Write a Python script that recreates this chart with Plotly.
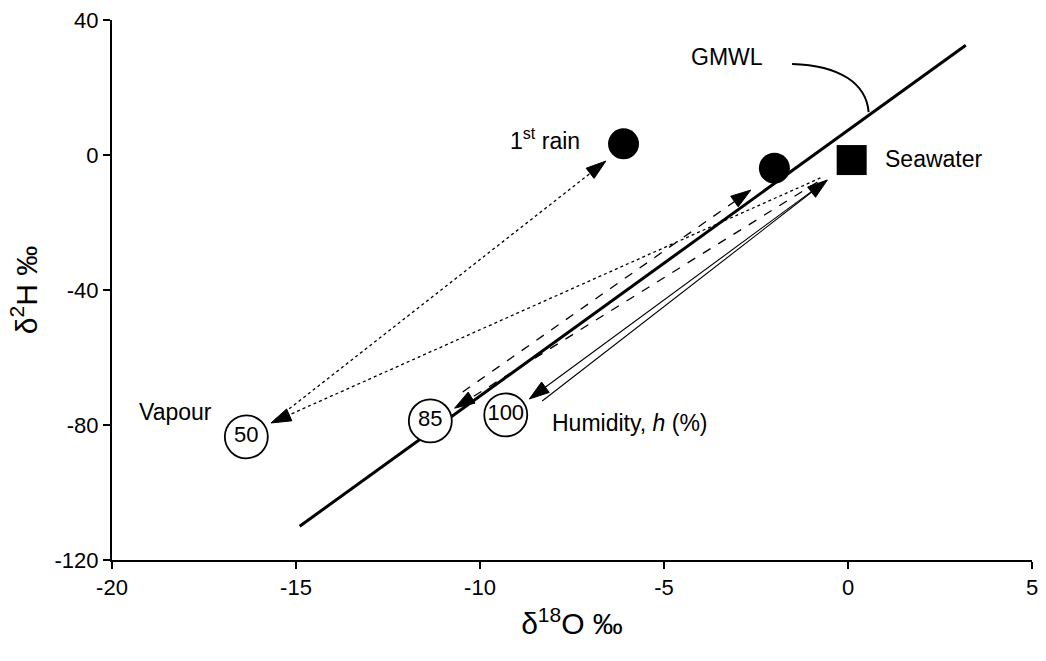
import plotly.graph_objects as go

# ---------------- data ----------------
# Global Meteoric Water Line (drawn segment)
gmwl_x = [-14.9, 3.2]
gmwl_y = [-110.0, 32.5]

# rain samples (filled circles)
rain_x = [-6.1, -2.0]
rain_y = [3.3, -3.9]

# seawater (filled square)
sea_x = [0.1]
sea_y = [-1.5]

# vapour in equilibrium at different humidities (open circles)
vapour_h = ["50", "85", "100"]
vapour_x = [-16.35, -11.35, -9.3]
vapour_y = [-83.5, -78.8, -77.0]

# arrows: start and tip (data units)
arrow_x0 = [-0.75, -15.57, -0.83, -10.47, -0.94, -8.31]
arrow_y0 = [-6.8, -78.5, -8.0, -70.2, -10.4, -72.9]
arrow_x1 = [-15.68, -6.58, -10.69, -2.64, -8.66, -0.56]
arrow_y1 = [-79.4, -1.8, -75.0, -10.4, -72.3, -7.4]
arrow_dash = ["dot", "dot", "dash", "dash", "solid", "solid"]

# GMWL leader curve (label end -> point on line)
leader_x = [-1.52, -0.2, 0.5, 0.56]
leader_y = [27.0, 26.6, 21.0, 12.7]

x_ticks = [-20, -15, -10, -5, 0, 5]
x_tick_text = ["-20", "-15", "-10", "-5", "0", "5"]
y_ticks = [-120, -80, -40, 0, 40]
y_tick_text = ["-120", "-80", "-40", "0", "40"]

FONT = "Arial, Liberation Sans, Helvetica, sans-serif"

fig = go.Figure()

# GMWL line
fig.add_trace(go.Scatter(x=gmwl_x, y=gmwl_y, mode="lines",
                         line=dict(color="black", width=3), hoverinfo="skip"))

# arrows
for x0, y0, x1, y1, d in zip(arrow_x0, arrow_y0, arrow_x1, arrow_y1, arrow_dash):
    fig.add_trace(go.Scatter(
        x=[x0, x1], y=[y0, y1], mode="lines+markers",
        line=dict(color="black", width=1.3 if d != "solid" else 1.1, dash=d),
        marker=dict(symbol="arrow", angleref="previous", size=[0, 21],
                    color="black", opacity=1,
                    line=dict(width=1, color="black")),
        hoverinfo="skip"))

# rain samples
fig.add_trace(go.Scatter(x=rain_x, y=rain_y, mode="markers",
                         marker=dict(symbol="circle", size=31, color="black",
                                     line=dict(width=0)), hoverinfo="skip"))
# seawater
fig.add_trace(go.Scatter(x=sea_x, y=sea_y, mode="markers",
                         marker=dict(symbol="square", size=30, color="black",
                                     line=dict(width=0)), hoverinfo="skip"))
# vapour circles
fig.add_trace(go.Scatter(x=vapour_x, y=vapour_y, mode="markers+text",
                         text=vapour_h, textposition="middle center",
                         textfont=dict(family=FONT, size=22, color="black"),
                         marker=dict(symbol="circle", size=43, color="white",
                                     line=dict(width=1.8, color="black")),
                         hoverinfo="skip"))

# GMWL leader curve
path = "M {},{} C {},{} {},{} {},{}".format(
    leader_x[0], leader_y[0], leader_x[1], leader_y[1],
    leader_x[2], leader_y[2], leader_x[3], leader_y[3])
fig.add_shape(type="path", path=path, xref="x", yref="y",
              line=dict(color="black", width=2))

lab_font = dict(family=FONT, size=23, color="black")
fig.add_annotation(x=-3.3, y=29, xref="x", yref="y", text="GMWL",
                   showarrow=False, font=lab_font)
fig.add_annotation(x=rain_x[0], y=rain_y[0], xref="x", yref="y",
                   text="1<sup>st</sup> rain", showarrow=False, font=lab_font,
                   xanchor="right", xshift=-42, yshift=5)
fig.add_annotation(x=sea_x[0], y=sea_y[0], xref="x", yref="y",
                   text="Seawater", showarrow=False, font=lab_font,
                   xanchor="left", xshift=31, yshift=1)
fig.add_annotation(x=vapour_x[0], y=vapour_y[0], xref="x", yref="y",
                   text="Vapour", showarrow=False, font=lab_font,
                   xanchor="right", xshift=-32, yshift=25)
fig.add_annotation(x=vapour_x[2], y=vapour_y[2], xref="x", yref="y",
                   text="Humidity, <i>h</i> (%)", showarrow=False, font=lab_font,
                   xanchor="left", xshift=44, yshift=-8)

axis_common = dict(showline=True, linecolor="black", linewidth=2,
                   showgrid=False, zeroline=False, ticks="outside",
                   ticklen=7, tickwidth=1.5, tickcolor="black",
                   tickfont=dict(family=FONT, size=22, color="black"))

fig.update_layout(
    width=1046, height=661,
    margin=dict(l=112, r=8, t=20, b=101),
    paper_bgcolor="white", plot_bgcolor="white",
    showlegend=False,
    xaxis=dict(range=[-20, 5], tickvals=x_ticks, ticktext=x_tick_text,
               title=dict(text="δ<sup>18</sup>O ‰", standoff=14,
                          font=dict(family=FONT, size=30, color="black")),
               **axis_common),
    yaxis=dict(range=[-120, 40], tickvals=y_ticks, ticktext=y_tick_text,
               title=dict(text="δ<sup>2</sup>H ‰", standoff=8,
                          font=dict(family=FONT, size=30, color="black")),
               **axis_common),
)

fig.write_html("out.html")
